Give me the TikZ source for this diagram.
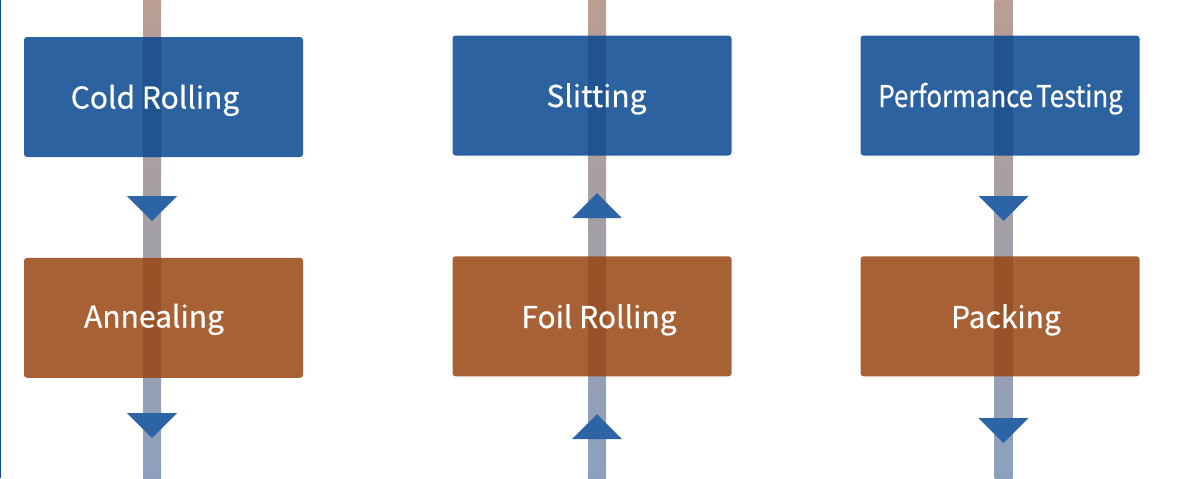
\documentclass[tikz,border=0pt]{standalone}
\usepackage{fontspec}
\usepackage{graphicx}
\setmainfont{Noto Sans CJK SC}
\newfontfamily\stagefont{Noto Sans CJK SC}[UprightFeatures={FakeBold=0.5}]
\usetikzlibrary{positioning, calc}

\definecolor{boxblue}{RGB}{8,71,143}
\definecolor{boxorange}{RGB}{153,68,18}
\definecolor{tipblue}{RGB}{45,100,165}
\definecolor{bartop}{RGB}{186,158,146}
\definecolor{barbot}{RGB}{140,160,190}
\definecolor{edgeblue}{RGB}{20,70,150}

\begin{document}
\begin{tikzpicture}[x=0.5pt, y=-0.5pt,
    node distance=50pt,
    stage/.style={rectangle, rounded corners=1.5pt, inner sep=0pt,
                  minimum width=139.5pt, minimum height=60pt, fill opacity=0.85},
    upper/.style={stage, fill=boxblue},
    lower/.style={stage, fill=boxorange},
    stagetext/.style={text=white, anchor=base, font=\stagefont\fontsize{15}{18}\selectfont},
    bar/.style={top color=bartop, bottom color=barbot},
    tipdown/.pic={\fill[tipblue] (-25,0) -- (25,0) -- (0,25) -- cycle;},
    tipup/.pic={\fill[tipblue] (-25,0) -- (25,0) -- (0,-25) -- cycle;},
]
\useasboundingbox (0,0) rectangle (1200,478);

% flow bars
\coordinate (c1top) at (152,0);    \coordinate (c1bot) at (152,478);
\coordinate (c2top) at (597,0);    \coordinate (c2bot) at (597,478);
\coordinate (c3top) at (1003.5,0); \coordinate (c3bot) at (1003.5,478);
\shade[bar] ($(c1top)+(-9,0)$) rectangle ($(c1bot)+(9,0)$);
\shade[bar] ($(c2top)+(-9,0)$) rectangle ($(c2bot)+(9,0)$);
\shade[bar] ($(c3top)+(-9,0)$) rectangle ($(c3bot)+(9,0)$);

% stages
\node[upper] (cold)  at (163.5,97) {};
\node[lower, below=of cold]  (anneal) {};
\node[upper] (slit)  at (592,95.5) {};
\node[lower, below=of slit]  (foil)   {};
\node[upper] (test)  at (1000,95.5) {};
\node[lower, below=of test]  (pack)   {};

\node[stagetext] (coldtxt)   at (155,108.5)  {Cold Rolling};
\node[stagetext] (annealtxt) at (154,327.5)  {Annealing};
\node[stagetext] (slittxt)   at (596.5,107)  {Slitting};
\node[stagetext] (foiltxt)   at (599,328)    {Foil Rolling};
\node[stagetext] (testtxt)   at (1000.5,107) {\scalebox{0.86}[1]{Performance\kern-1.5pt\ Testing}};
\node[stagetext] (packtxt)   at (1006,328)   {Packing};

% arrow tips
\pic at (152,196)    {tipdown};
\pic at (152,413)    {tipdown};
\pic at (597,218)    {tipup};
\pic at (597,439)    {tipup};
\pic at (1003.5,196) {tipdown};
\pic at (1003.5,418) {tipdown};

\draw[edgeblue, line width=1pt] (0,0) -- (0,478);
\end{tikzpicture}
\end{document}
